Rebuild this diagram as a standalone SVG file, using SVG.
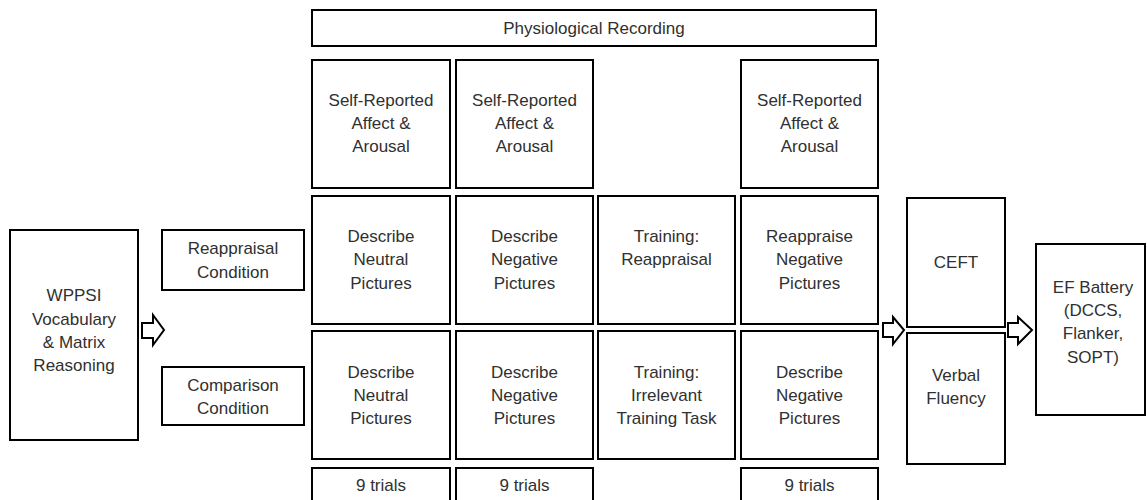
<svg xmlns="http://www.w3.org/2000/svg" width="1147" height="500" viewBox="0 0 1147 500">
<style>
.b{fill:#fff;stroke:#000;stroke-width:2}
.t{font-family:"Liberation Sans",Arial,sans-serif;font-size:17px;fill:#303030;text-anchor:middle}
.a{fill:#fff;stroke:#000;stroke-width:2;stroke-linejoin:miter}
</style>
<rect width="1147" height="500" fill="#fff"/>
<g id="physio"><rect class="b" x="312" y="10" width="564" height="36"/><text class="t" x="594" y="34">Physiological Recording</text></g>
<g id="wppsi"><rect class="b" x="10" y="230" width="128" height="210"/><text class="t" x="74" y="301">WPPSI</text><text class="t" x="74" y="325">Vocabulary</text><text class="t" x="74" y="348">&amp; Matrix</text><text class="t" x="74" y="371">Reasoning</text></g>
<g id="reapp-cond"><rect class="b" x="162" y="230" width="142" height="60"/><text class="t" x="233" y="254">Reappraisal</text><text class="t" x="233" y="278">Condition</text></g>
<g id="comp-cond"><rect class="b" x="162" y="367" width="142" height="58"/><text class="t" x="233" y="391">Comparison</text><text class="t" x="233" y="414">Condition</text></g>
<g id="sr1"><rect class="b" x="312" y="60" width="138" height="128"/><text class="t" x="381" y="106">Self-Reported</text><text class="t" x="381" y="129">Affect &amp;</text><text class="t" x="381" y="152">Arousal</text></g>
<g id="sr2"><rect class="b" x="456" y="60" width="137" height="128"/><text class="t" x="524.5" y="106">Self-Reported</text><text class="t" x="524.5" y="129">Affect &amp;</text><text class="t" x="524.5" y="152">Arousal</text></g>
<g id="sr4"><rect class="b" x="741" y="60" width="137" height="128"/><text class="t" x="809.5" y="106">Self-Reported</text><text class="t" x="809.5" y="129">Affect &amp;</text><text class="t" x="809.5" y="152">Arousal</text></g>
<g id="r-neutral"><rect class="b" x="312" y="196" width="138" height="128"/><text class="t" x="381" y="242">Describe</text><text class="t" x="381" y="265">Neutral</text><text class="t" x="381" y="289">Pictures</text></g>
<g id="r-negative"><rect class="b" x="456" y="196" width="137" height="128"/><text class="t" x="524.5" y="242">Describe</text><text class="t" x="524.5" y="265">Negative</text><text class="t" x="524.5" y="289">Pictures</text></g>
<g id="r-training"><rect class="b" x="598" y="196" width="137" height="128"/><text class="t" x="666.5" y="242">Training:</text><text class="t" x="666.5" y="265">Reappraisal</text></g>
<g id="r-reappraise"><rect class="b" x="741" y="196" width="137" height="128"/><text class="t" x="809.5" y="242">Reappraise</text><text class="t" x="809.5" y="265">Negative</text><text class="t" x="809.5" y="289">Pictures</text></g>
<g id="c-neutral"><rect class="b" x="312" y="331" width="138" height="128"/><text class="t" x="381" y="378">Describe</text><text class="t" x="381" y="401">Neutral</text><text class="t" x="381" y="424">Pictures</text></g>
<g id="c-negative"><rect class="b" x="456" y="331" width="137" height="128"/><text class="t" x="524.5" y="378">Describe</text><text class="t" x="524.5" y="401">Negative</text><text class="t" x="524.5" y="424">Pictures</text></g>
<g id="c-training"><rect class="b" x="598" y="331" width="137" height="128"/><text class="t" x="666.5" y="378">Training:</text><text class="t" x="666.5" y="401">Irrelevant</text><text class="t" x="666.5" y="424">Training Task</text></g>
<g id="c-describe"><rect class="b" x="741" y="331" width="137" height="128"/><text class="t" x="809.5" y="378">Describe</text><text class="t" x="809.5" y="401">Negative</text><text class="t" x="809.5" y="424">Pictures</text></g>
<g id="trials1"><rect class="b" x="312" y="468" width="138" height="40"/><text class="t" x="381" y="491">9 trials</text></g>
<g id="trials2"><rect class="b" x="456" y="468" width="137" height="40"/><text class="t" x="524.5" y="491">9 trials</text></g>
<g id="trials4"><rect class="b" x="741" y="468" width="137" height="40"/><text class="t" x="809.5" y="491">9 trials</text></g>
<g id="ceft"><rect class="b" x="907" y="198" width="98" height="129"/><text class="t" x="956" y="268">CEFT</text></g>
<g id="verbal"><rect class="b" x="907" y="333" width="98" height="131"/><text class="t" x="956" y="381">Verbal</text><text class="t" x="956" y="404">Fluency</text></g>
<g id="ef"><rect class="b" x="1036" y="244" width="109" height="171"/><text class="t" x="1093" y="293">EF Battery</text><text class="t" x="1093" y="316">(DCCS,</text><text class="t" x="1093" y="339">Flanker,</text><text class="t" x="1093" y="363">SOPT)</text></g>
<g id="connectors">
<polygon class="a" points="142,323 153,323 153,315 164,330 153,345 153,338 142,338"/>
<polygon class="a" points="883,323 893,323 893,317 904,330 893,344 893,337 883,337"/>
<polygon class="a" points="1008,323 1018,323 1018,317 1032,330 1018,344 1018,337 1008,337"/>
</g>
</svg>
